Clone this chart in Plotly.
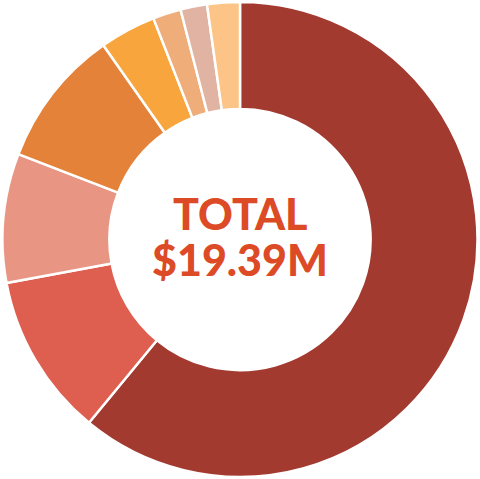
import plotly.graph_objects as go

categories = ["Category A", "Category B", "Category C", "Category D",
              "Category E", "Category F", "Category G", "Category H"]
values = [11.81, 2.15, 1.70, 1.82, 0.74, 0.37, 0.35, 0.43]
colors = ["#a33a30", "#de5e50", "#e89683", "#e5823a",
          "#f7a53c", "#efad7a", "#e0b3a2", "#fcc486"]
center_lines = ["TOTAL", "$19.39M"]

fig = go.Figure(go.Pie(
    labels=categories,
    values=values,
    hole=0.55,
    sort=False,
    direction="clockwise",
    rotation=0,
    marker=dict(colors=colors, line=dict(color="white", width=2.5)),
    textinfo="none",
    hoverinfo="label+value",
    showlegend=False,
))

for txt, shift in zip(center_lines, [26, -20]):
    fig.add_annotation(
        x=0.5, y=0.5, xref="paper", yref="paper",
        text=txt, yshift=shift,
        showarrow=False,
        font=dict(family="Lato, Open Sans, sans-serif", size=43,
                  color="#dd4a26", weight=900),
        align="center",
    )

fig.update_layout(
    width=480, height=479,
    margin=dict(l=2, r=2, t=2, b=2),
    paper_bgcolor="white",
    plot_bgcolor="white",
)

fig.write_html("out.html", config={"displayModeBar": False},
               post_script="document.body.style.margin='0';")
